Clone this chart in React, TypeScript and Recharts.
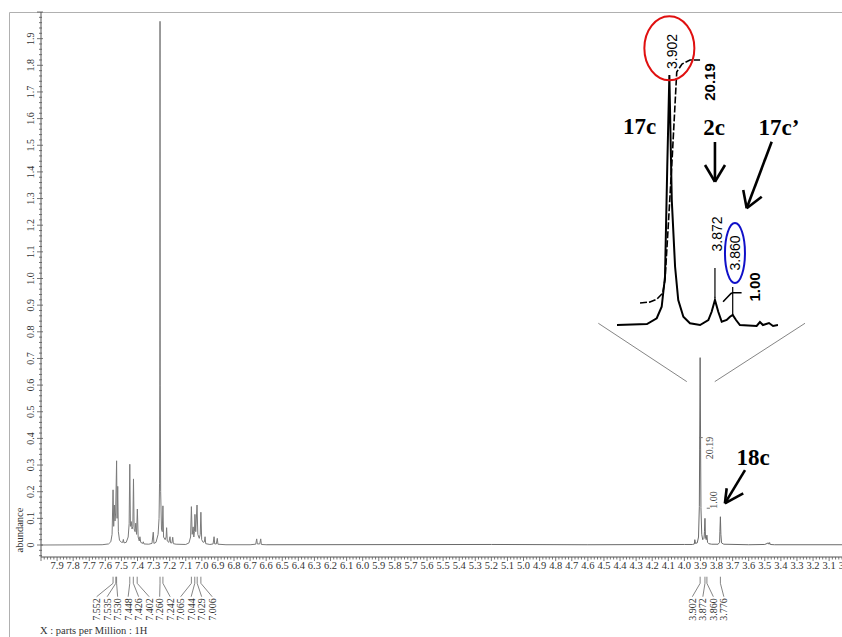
import React from 'react';
import { LineChart, Line, XAxis, YAxis, ReferenceLine, ReferenceDot } from 'recharts';

type Pt = [number, number];

// ---- main spectrum (ppm, abundance) ----
const aromaticRegion: Pt[] = [
  [8.0, 0], [7.62, 0.001], [7.58, 0.004], [7.566, 0.012], [7.558, 0.04],
  [7.552, 0.207], [7.548, 0.07], [7.544, 0.15], [7.540, 0.09], [7.536, 0.12], [7.530, 0.316], [7.527, 0.1], [7.523, 0.22], [7.519, 0.05], [7.512, 0.018], [7.500, 0.01],
  [7.492, 0.01], [7.488, 0.021], [7.484, 0.008], [7.47, 0.01], [7.458, 0.03], [7.452, 0.08], [7.448, 0.303], [7.444, 0.07], [7.439, 0.088], [7.434, 0.06], [7.429, 0.07], [7.425, 0.248], [7.421, 0.06], [7.415, 0.05], [7.411, 0.082], [7.406, 0.04], [7.401, 0.135], [7.396, 0.03], [7.389, 0.015], [7.385, 0.031], [7.380, 0.01], [7.368, 0.006], [7.364, 0.012], [7.36, 0.004], [7.33, 0.003],
  [7.310, 0.006], [7.302, 0.048], [7.298, 0.006], [7.285, 0.01], [7.272, 0.04], [7.266, 0.1], [7.263, 0.232], [7.2615, 0.6], [7.260, 1.965], [7.2585, 0.6], [7.256, 0.2], [7.251, 0.06], [7.246, 0.05], [7.242, 0.147], [7.238, 0.03], [7.228, 0.02], [7.222, 0.03], [7.219, 0.065], [7.215, 0.015], [7.205, 0.01], [7.198, 0.031], [7.194, 0.008], [7.186, 0.008], [7.181, 0.029], [7.177, 0.005], [7.16, 0.003], [7.10, 0.002],
  [7.08, 0.008], [7.070, 0.03], [7.065, 0.144], [7.060, 0.04], [7.054, 0.068], [7.050, 0.03], [7.046, 0.05], [7.043, 0.115], [7.038, 0.05], [7.030, 0.15], [7.025, 0.04], [7.016, 0.025], [7.010, 0.04], [7.006, 0.123], [7.001, 0.02], [6.992, 0.01], [6.984, 0.012], [6.980, 0.031], [6.976, 0.005], [6.95, 0.002],
  [6.93, 0.004], [6.924, 0.031], [6.920, 0.004], [6.910, 0.004], [6.904, 0.025], [6.900, 0.003], [6.85, 0.001], [6.70, 0.001], [6.665, 0.003], [6.659, 0.023], [6.655, 0.004], [6.640, 0.004], [6.634, 0.023], [6.630, 0.002], [6.60, 0.001],
];

const methoxyRegion: Pt[] = [
  [6.60, 0.001], [5.2, 0.002], [4.6, 0.001], [4.0, 0.002], [3.95, 0.002], [3.938, 0.004], [3.935, 0.02], [3.931, 0.006], [3.92, 0.008],
  [3.912, 0.03], [3.907, 0.144], [3.905, 0.36], [3.902, 0.703], [3.899, 0.36], [3.897, 0.14], [3.892, 0.04], [3.886, 0.02],
  [3.878, 0.025], [3.875, 0.05], [3.872, 0.10], [3.869, 0.03], [3.864, 0.02], [3.860, 0.037], [3.856, 0.01], [3.848, 0.005],
  [3.83, 0.003], [3.79, 0.003], [3.781, 0.01], [3.779, 0.05], [3.776, 0.106], [3.773, 0.04], [3.769, 0.008], [3.755, 0.003],
  [3.60, 0.001], [3.50, 0.002], [3.478, 0.008], [3.474, 0.003], [3.470, 0.009], [3.466, 0.002], [3.44, 0.001], [3.02, 0.001],
];

const mainIntegralTop: Pt[] = [[3.907, 0.403], [3.886, 0.403]];
const mainIntegralStep: Pt[] = [[3.901, 0.394], [3.901, 0.406]];
const mainIntegralMinor: Pt[] = [[3.861, 0.138], [3.841, 0.138]];

// ---- inset spectrum (magnified 3.94-3.83 ppm) ----
const insetSpectrum: Pt[] = [
  [3.937, 0], [3.9171, 0.004], [3.9106, 0.027], [3.9073, 0.073], [3.9051, 0.193], [3.9036, 0.633], [3.9022, 1.0],
  [3.9006, 0.5], [3.8984, 0.233], [3.8963, 0.1], [3.8929, 0.033], [3.8885, 0.007], [3.8818, 0],
  [3.8763, 0.02], [3.8741, 0.053], [3.8719, 0.10], [3.8697, 0.053], [3.8674, 0.013], [3.8641, 0.02], [3.8619, 0.033],
  [3.8601, 0.04], [3.8579, 0.02], [3.8553, 0], [3.8442, -0.004], [3.842, 0.012], [3.840, 0], [3.836, 0.008], [3.8333, -0.004], [3.830, 0],
];
const insetIntegral17c: Pt[] = [
  [3.9217, 0.088], [3.9151, 0.092], [3.9104, 0.104], [3.9066, 0.128], [3.9051, 0.18], [3.9031, 0.38],
  [3.9004, 0.66], [3.8973, 1.012], [3.8938, 1.044], [3.8885, 1.06], [3.8818, 1.06],
];
const insetIntegral17cPrime: Pt[] = [
  [3.8665, 0.093], [3.8635, 0.112], [3.8612, 0.126], [3.8600, 0.129], [3.8542, 0.129],
];

// ---- peak labels / integrals ----
const peakPpmLabels: number[] = [7.552, 7.535, 7.530, 7.448, 7.426, 7.402, 7.260, 7.242, 7.065, 7.044, 7.029, 7.006, 3.902, 3.872, 3.860, 3.776];
const integralLabels: string[] = ['20.19', '1.00'];
const insetPeakLabels: string[] = ['3.902', '3.872', '3.860'];
const compoundLabels: string[] = ['17c', '2c', "17c\u2019", '18c'];

const xTicks: number[] = [];
for (let i = 150; i <= 400; i++) xTicks.push(Math.round(i * 2) / 100);
const yTicks: number[] = [];
for (let i = -2; i <= 100; i++) yTicks.push(Math.round(i * 2) / 100);

const rows = (pts: Pt[]) => pts.map(([ppm, v]) => ({ ppm, v }));

const SERIF = "'Liberation Serif', 'Times New Roman', serif";
const SANS = "'Liberation Sans', Arial, sans-serif";
const LABEL_GAP = 0.0653; // ppm (about 10.5 px)

function spreadLabels(ppms: number[], gap: number): Map<number, number> {
  const sorted = [...ppms].sort((a, b) => b - a);
  type C = { items: number[]; start: number };
  const clusters: C[] = [];
  for (const p of sorted) {
    clusters.push({ items: [-p], start: -p });
    while (clusters.length > 1) {
      const c = clusters[clusters.length - 1];
      const prev = clusters[clusters.length - 2];
      if (prev.start + prev.items.length * gap > c.start) {
        const items = prev.items.concat(c.items);
        const mean = items.reduce((s, v) => s + v, 0) / items.length;
        clusters.splice(-2, 2, { items, start: mean - ((items.length - 1) * gap) / 2 });
      } else break;
    }
  }
  const out = new Map<number, number>();
  let k = 0;
  for (const c of clusters) {
    c.items.forEach((_, j) => {
      out.set(sorted[k], -(c.start + j * gap));
      k++;
    });
  }
  return out;
}
const labelPos = spreadLabels(peakPpmLabels, LABEL_GAP);

const isMajor = (v: number) => Math.abs(v * 10 - Math.round(v * 10)) < 1e-6;

const XTick = (props: any) => {
  const { x, y, payload } = props;
  const v = payload.value as number;
  const major = isMajor(v);
  return (
    <g>
      <line x1={x} x2={x} y1={y} y2={y + (major ? 4 : 2.5)} stroke="#555" strokeWidth={0.8} />
      {major && v < 7.95 && (
        <text x={x} y={y + 12} textAnchor="middle" fontFamily={SERIF} fontSize={10.5} fill="#333">
          {v.toFixed(1)}
        </text>
      )}
    </g>
  );
};

const YTick = (props: any) => {
  const { x, y, payload } = props;
  const v = payload.value as number;
  const major = isMajor(v);
  const lx = x - 10;
  return (
    <g>
      <line x1={x - (major ? 4 : 2)} x2={x + (major ? 2 : 1)} y1={y} y2={y} stroke="#555" strokeWidth={0.8} />
      {major && v >= 0 && v < 1.95 && (
        <text x={lx} y={y} transform={`rotate(-90 ${lx} ${y})`} textAnchor="middle" dominantBaseline="central" fontFamily={SERIF} fontSize={10} fill="#333">
          {v === 0 ? '0' : v.toFixed(1)}
        </text>
      )}
    </g>
  );
};

const vText = (txt: string, size: number, family: string, fill: string, weight: string | number = 'normal') => (p: any) => (
  <text x={p.cx} y={p.cy} transform={`rotate(-90 ${p.cx} ${p.cy})`} textAnchor="middle" dominantBaseline="central" fontFamily={family} fontSize={size} fontWeight={weight} fill={fill}>
    {txt}
  </text>
);
const hText = (txt: string, size: number) => (p: any) => (
  <text x={p.cx} y={p.cy} textAnchor="middle" fontFamily={SERIF} fontSize={size} fontWeight="bold" fill="#000">
    {txt}
  </text>
);
const ellipse = (rx: number, ry: number, color: string) => (p: any) => (
  <ellipse cx={p.cx} cy={p.cy} rx={rx} ry={ry} fill="none" stroke={color} strokeWidth={2} />
);

type Seg = [Pt, Pt];
const seg = (s: Seg) => [{ x: s[0][0], y: s[0][1] }, { x: s[1][0], y: s[1][1] }];

// main-chart annotation geometry (data coordinates)
const zoomGuides: Seg[] = [
  [[4.535, 0.832], [3.985, 0.613]],
  [[3.250, 0.832], [3.811, 0.613]],
];
const arrow18c: Seg[] = [
  [[3.623, 0.281], [3.748, 0.156]],
  [[3.737, 0.213], [3.748, 0.156]],
  [[3.634, 0.194], [3.748, 0.156]],
];
// inset annotation geometry (inset data coordinates)
const insetArrows: Seg[] = [
  [[3.8719, 0.732], [3.8719, 0.573]],
  [[3.8785, 0.64], [3.8719, 0.573]],
  [[3.8652, 0.64], [3.8719, 0.573]],
  [[3.8342, 0.733], [3.8508, 0.467]],
  [[3.8531, 0.54], [3.8508, 0.467]],
  [[3.8408, 0.513], [3.8508, 0.467]],
];
const insetLeaders: Seg[] = [
  [[3.8719, 0.228], [3.8719, 0.108]],
  [[3.8601, 0.152], [3.8601, 0.04]],
];

const LEAD_TOP = -0.119;
const LEAD_BEND = -0.1437;
const LEAD_END = -0.194;
const LABEL_MID = -0.242;

export default function App() {
  return (
    <div style={{ position: 'absolute', left: 0, top: 0, width: 842, height: 637, background: '#fff', overflow: 'hidden' }}>
      <svg width={842} height={637} style={{ position: 'absolute', left: 0, top: 0 }}>
        <path d="M9.5 637 V12.5 H842" fill="none" stroke="#b0b0b0" strokeWidth={1} />
        <text x={19} y={530} transform="rotate(-90 19 530)" textAnchor="middle" dominantBaseline="central" fontFamily={SERIF} fontSize={10.5} fill="#333">
          abundance
        </text>
        <text x={40} y={634} fontFamily={SERIF} fontSize={10.5} fill="#333">
          X : parts per Million : 1H
        </text>
      </svg>

      <div style={{ position: 'absolute', left: 0, top: 0 }}>
        <LineChart width={842} height={637} margin={{ top: 12, right: 0, bottom: 0, left: 0 }}>
          <XAxis
            type="number"
            dataKey="ppm"
            domain={[3.02, 8.0]}
            reversed
            allowDataOverflow
            ticks={xTicks}
            interval={0}
            tick={<XTick />}
            tickLine={false}
            tickSize={0}
            tickMargin={0}
            height={80}
            axisLine={{ stroke: '#555', strokeWidth: 1 }}
          />
          <YAxis
            type="number"
            domain={[-0.045, 2.0]}
            allowDataOverflow
            ticks={yTicks}
            interval={0}
            tick={<YTick />}
            tickLine={false}
            tickSize={0}
            tickMargin={0}
            width={41}
            axisLine={{ stroke: '#555', strokeWidth: 1 }}
          />
          <Line data={rows(aromaticRegion)} dataKey="v" type="linear" stroke="#7a7a7a" strokeWidth={1} dot={false} isAnimationActive={false} />
          <Line data={rows(methoxyRegion)} dataKey="v" type="linear" stroke="#6a6a6a" strokeWidth={1} dot={false} isAnimationActive={false} />
          <Line data={rows(mainIntegralTop)} dataKey="v" type="linear" stroke="#777" strokeWidth={1} dot={false} isAnimationActive={false} />
          <Line data={rows(mainIntegralStep)} dataKey="v" type="linear" stroke="#777" strokeWidth={1} dot={false} isAnimationActive={false} />
          <Line data={rows(mainIntegralMinor)} dataKey="v" type="linear" stroke="#777" strokeWidth={1} dot={false} isAnimationActive={false} />

          {zoomGuides.map((s, i) => (
            <ReferenceLine key={`zg${i}`} segment={seg(s)} stroke="#666" strokeWidth={0.8} ifOverflow="visible" />
          ))}
          {arrow18c.map((s, i) => (
            <ReferenceLine key={`a18${i}`} segment={seg(s)} stroke="#000" strokeWidth={2.6} ifOverflow="visible" />
          ))}
          <ReferenceDot x={3.573} y={0.300} ifOverflow="visible" shape={hText(compoundLabels[3], 23)} />
          <ReferenceDot x={3.841} y={0.364} ifOverflow="visible" shape={vText(integralLabels[0], 10, SERIF, '#444')} />
          <ReferenceDot x={3.816} y={0.169} ifOverflow="visible" shape={vText(integralLabels[1], 10, SERIF, '#444')} />

          {peakPpmLabels.map((p) => {
            const lp = labelPos.get(p) as number;
            return (
              <React.Fragment key={`pk${p}`}>
                <ReferenceLine segment={[{ x: p, y: LEAD_TOP }, { x: p, y: LEAD_BEND }]} stroke="#666" strokeWidth={0.8} ifOverflow="visible" />
                <ReferenceLine segment={[{ x: p, y: LEAD_BEND }, { x: lp, y: LEAD_END }]} stroke="#666" strokeWidth={0.8} ifOverflow="visible" />
                <ReferenceDot x={lp} y={LABEL_MID} ifOverflow="visible" shape={vText(p.toFixed(3), 10, SERIF, '#333')} />
              </React.Fragment>
            );
          })}
        </LineChart>
      </div>

      <div style={{ position: 'absolute', left: 617, top: 10 }}>
        <LineChart width={200} height={320} margin={{ top: 20, right: 39, bottom: 0, left: 0 }}>
          <XAxis type="number" dataKey="ppm" domain={[3.830, 3.937]} reversed allowDataOverflow hide />
          <YAxis type="number" domain={[-0.02, 1.18]} allowDataOverflow hide />
          <Line data={rows(insetSpectrum)} dataKey="v" type="linear" stroke="#000" strokeWidth={2} dot={false} isAnimationActive={false} />
          <Line data={rows(insetIntegral17c)} dataKey="v" type="linear" stroke="#000" strokeWidth={1.6} strokeDasharray="7 2" dot={false} isAnimationActive={false} />
          <Line data={rows(insetIntegral17cPrime)} dataKey="v" type="linear" stroke="#000" strokeWidth={1.6} dot={false} isAnimationActive={false} />

          {insetLeaders.map((s, i) => (
            <ReferenceLine key={`il${i}`} segment={seg(s)} stroke="#000" strokeWidth={1.2} ifOverflow="visible" />
          ))}
          {insetArrows.map((s, i) => (
            <ReferenceLine key={`ia${i}`} segment={seg(s)} stroke="#000" strokeWidth={2.6} ifOverflow="visible" />
          ))}

          <ReferenceDot x={3.9006} y={1.094} ifOverflow="visible" shape={vText(insetPeakLabels[0], 14, SANS, '#000')} />
          <ReferenceDot x={3.8707} y={0.364} ifOverflow="visible" shape={vText(insetPeakLabels[1], 14, SANS, '#000')} />
          <ReferenceDot x={3.8586} y={0.288} ifOverflow="visible" shape={vText(insetPeakLabels[2], 14, SANS, '#000')} />
          <ReferenceDot x={3.8752} y={0.972} ifOverflow="visible" shape={vText(integralLabels[0], 15, SANS, '#000', 'bold')} />
          <ReferenceDot x={3.8453} y={0.152} ifOverflow="visible" shape={vText(integralLabels[1], 15, SANS, '#000', 'bold')} />

          <ReferenceDot x={3.9022} y={1.107} ifOverflow="visible" shape={ellipse(25, 32, '#e01010')} />
          <ReferenceDot x={3.8586} y={0.288} ifOverflow="visible" shape={ellipse(10, 30, '#1010c8')} />

          <ReferenceDot x={3.922} y={0.764} ifOverflow="visible" shape={hText(compoundLabels[0], 23)} />
          <ReferenceDot x={3.8725} y={0.76} ifOverflow="visible" shape={hText(compoundLabels[1], 23)} />
          <ReferenceDot x={3.8293} y={0.76} ifOverflow="visible" shape={hText(compoundLabels[2], 23)} />
        </LineChart>
      </div>
    </div>
  );
}
